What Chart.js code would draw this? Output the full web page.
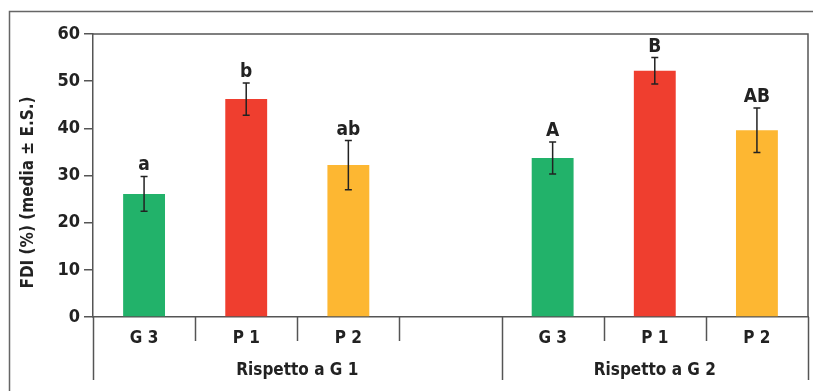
<!DOCTYPE html>
<html>
<head>
<meta charset="utf-8">
<script src="https://cdn.jsdelivr.net/npm/chart.js@4/dist/chart.umd.min.js"></script>
<style>
html,body{margin:0;padding:0;background:#fff;}
#wrap{width:813px;height:391px;position:relative;}
</style>
</head>
<body>
<div id="wrap"><canvas id="c"></canvas></div>
<script>
const categories = ["G 3", "P 1", "P 2", "", "G 3", "P 1", "P 2"];
const means = [26.1, 46.2, 32.2, null, 33.7, 52.2, 39.6];
const errors = [3.7, 3.4, 5.2, null, 3.4, 2.8, 4.7];
const letters = ["a", "b", "ab", "", "A", "B", "AB"];
const groupLabels = ["Rispetto a G 1", "Rispetto a G 2"];
const groupSizes = [4, 3];
const barColors = ["#22b26a", "#ef3e2f", "#fdb732", null, "#22b26a", "#ef3e2f", "#fdb732"];
const yTitle = "FDI (%) (media \u00B1 E.S.)";

const FONT = '"Liberation Sans Narrow", "DejaVu Sans Condensed", "Roboto Condensed", Arial, sans-serif';
const LINE = "#555";
const TXT = "#222";

const overlay = {
  id: "overlay",
  afterDraw(chart) {
    const ctx = chart.ctx;
    const x = chart.scales.x, y = chart.scales.y;
    const ca = chart.chartArea;
    ctx.save();
    // outer frame
    ctx.strokeStyle = "#666"; ctx.lineWidth = 1.5;
    ctx.beginPath(); ctx.moveTo(9.5, 391); ctx.lineTo(9.5, 11.5); ctx.lineTo(813, 11.5); ctx.stroke();
    // plot frame top and right
    ctx.strokeStyle = LINE; ctx.lineWidth = 1.5;
    ctx.beginPath(); ctx.moveTo(ca.left, ca.top); ctx.lineTo(ca.right, ca.top); ctx.lineTo(ca.right, ca.bottom); ctx.stroke();
    // error bars and letters
    ctx.strokeStyle = TXT; ctx.lineWidth = 1.5;
    means.forEach((m, i) => {
      if (m === null) return;
      const cx = x.getPixelForValue(i);
      const yt = y.getPixelForValue(m + errors[i]);
      const yb = y.getPixelForValue(m - errors[i]);
      ctx.beginPath();
      ctx.moveTo(cx, yt); ctx.lineTo(cx, yb);
      ctx.moveTo(cx - 3.5, yt); ctx.lineTo(cx + 3.5, yt);
      ctx.moveTo(cx - 3.5, yb); ctx.lineTo(cx + 3.5, yb);
      ctx.stroke();
      ctx.fillStyle = TXT;
      ctx.font = "bold 19px " + FONT;
      ctx.textAlign = "center"; ctx.textBaseline = "alphabetic";
      ctx.fillText(letters[i], cx, yt - 6);
    });
    // x ticks / separators
    const n = categories.length;
    const slot = (ca.right - ca.left) / n;
    const groupBounds = [0];
    groupSizes.reduce((a, s) => { groupBounds.push(a + s); return a + s; }, 0);
    ctx.strokeStyle = LINE; ctx.lineWidth = 1.5;
    for (let i = 0; i <= n; i++) {
      const px = Math.round(ca.left + i * slot) + 0.5;
      const long = groupBounds.includes(i);
      ctx.beginPath(); ctx.moveTo(px, ca.bottom); ctx.lineTo(px, long ? 380 : 341); ctx.stroke();
    }
    // category labels
    ctx.fillStyle = TXT; ctx.font = "bold 17px " + FONT;
    ctx.textAlign = "center"; ctx.textBaseline = "middle";
    categories.forEach((c, i) => { if (c) ctx.fillText(c, x.getPixelForValue(i), 339); });
    // group labels
    for (let g = 0; g < groupLabels.length; g++) {
      const a = ca.left + groupBounds[g] * slot, b = ca.left + groupBounds[g + 1] * slot;
      ctx.fillText(groupLabels[g], (a + b) / 2, 371);
    }
    // y title
    ctx.translate(29, (ca.top + ca.bottom) / 2 + 17);
    ctx.rotate(-Math.PI / 2);
    ctx.font = "bold 17px " + FONT;
    ctx.fillText(yTitle, 0, 0);
    ctx.restore();
  }
};

new Chart(document.getElementById("c"), {
  type: "bar",
  data: {
    labels: categories,
    datasets: [{
      data: means,
      backgroundColor: barColors,
      barPercentage: 0.41,
      categoryPercentage: 1.0,
      borderWidth: 0
    }]
  },
  options: {
    responsive: true,
    maintainAspectRatio: false,
    animation: false,
    devicePixelRatio: 1,
    layout: { padding: { left: 0, top: 34, right: 5, bottom: 0 } },
    plugins: { legend: { display: false }, tooltip: { enabled: false } },
    scales: {
      x: {
        afterFit(s) { s.height = 74; },
        grid: { display: false },
        border: { display: true, color: LINE, width: 1.5 },
        ticks: { display: false }
      },
      y: {
        min: 0, max: 60,
        afterFit(s) { s.width = 93; },
        grid: { drawOnChartArea: false, drawTicks: true, tickLength: 9, color: LINE, lineWidth: 1.5 },
        border: { display: true, color: LINE, width: 1.5 },
        ticks: { stepSize: 10, padding: 4, color: TXT, font: { family: FONT, size: 18, weight: "bold" } }
      }
    }
  },
  plugins: [overlay]
});
</script>
</body>
</html>
